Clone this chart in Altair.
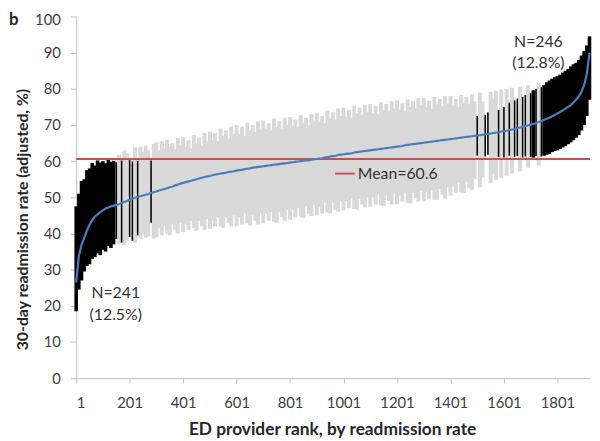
import altair as alt
import pandas as pd

MEAN = 60.6
FONT = "Lato"

# provider ranks (one drawn bar per 10 ranks)
rank = list(range(1, 1922, 10))

rate = [
    26.5, 33.8, 36.8, 38.8, 40.8, 42.4, 43.7, 44.7, 45.3, 45.9,
    46.4, 46.9, 47.2, 47.5, 47.7, 47.9, 48.1, 48.4, 48.7, 49.0,
    49.3, 49.6, 49.9, 50.1, 50.3, 50.5, 50.7, 50.9, 51.2, 51.4,
    51.6, 51.9, 52.1, 52.3, 52.5, 52.8, 53.0, 53.3, 53.5, 53.8,
    54.0, 54.2, 54.4, 54.6, 54.8, 55.0, 55.2, 55.4, 55.6, 55.8,
    55.9, 56.1, 56.3, 56.4, 56.6, 56.7, 56.8, 57.0, 57.1, 57.2,
    57.4, 57.5, 57.6, 57.8, 57.9, 58.0, 58.2, 58.3, 58.4, 58.5,
    58.6, 58.7, 58.8, 58.9, 59.0, 59.1, 59.2, 59.3, 59.4, 59.5,
    59.6, 59.7, 59.8, 59.9, 60.0, 60.1, 60.2, 60.3, 60.4, 60.5,
    60.6, 60.7, 60.8, 61.0, 61.1, 61.3, 61.4, 61.5, 61.7, 61.8,
    61.9, 62.0, 62.1, 62.2, 62.4, 62.5, 62.6, 62.7, 62.8, 62.9,
    63.0, 63.1, 63.2, 63.3, 63.4, 63.5, 63.6, 63.7, 63.8, 63.9,
    64.0, 64.1, 64.2, 64.4, 64.5, 64.6, 64.7, 64.8, 64.9, 65.0,
    65.1, 65.2, 65.3, 65.4, 65.5, 65.6, 65.7, 65.8, 65.9, 66.0,
    66.1, 66.2, 66.3, 66.4, 66.5, 66.6, 66.7, 66.8, 66.9, 67.0,
    67.1, 67.2, 67.3, 67.4, 67.5, 67.6, 67.8, 67.9, 68.0, 68.2,
    68.3, 68.4, 68.6, 68.7, 68.9, 69.1, 69.3, 69.5, 69.7, 69.9,
    70.1, 70.3, 70.5, 70.8, 71.1, 71.4, 71.7, 72.0, 72.4, 72.8,
    73.2, 73.6, 74.0, 74.5, 75.0, 75.5, 76.2, 77.0, 78.0, 79.2,
    81.0, 84.0, 90.0,
]

lo = [
    18.5, 24.5, 27.0, 29.5, 31.0, 31.5, 33.0, 33.5, 34.5, 34.0,
    35.5, 35.0, 36.5, 36.0, 37.0, 38.5, 37.0, 37.5, 36.8, 38.0,
    39.0, 38.0, 37.5, 39.5, 38.5, 40.0, 38.8, 39.2, 43.0, 38.6,
    39.0, 41.5, 39.5, 42.0, 40.0, 39.5, 42.5, 41.0, 40.0, 43.0,
    40.4, 42.5, 41.0, 43.5, 41.5, 40.8, 43.5, 42.0, 41.0, 44.0,
    41.3, 43.5, 42.0, 44.5, 42.0, 41.5, 44.5, 43.0, 42.0, 45.0,
    42.0, 44.5, 42.5, 45.5, 42.8, 42.2, 45.0, 43.5, 42.5, 45.5,
    42.8, 45.5, 43.5, 46.0, 43.2, 43.0, 46.0, 44.5, 43.5, 46.5,
    43.8, 46.5, 44.5, 47.0, 44.5, 44.3, 47.5, 45.5, 44.8, 47.8,
    45.0, 47.5, 45.5, 48.5, 45.8, 45.5, 48.5, 46.5, 46.0, 49.0,
    46.4, 49.0, 47.0, 49.8, 46.8, 46.6, 49.5, 48.0, 47.2, 50.0,
    47.4, 50.0, 48.0, 50.8, 47.8, 47.6, 50.5, 49.0, 48.0, 51.0,
    48.1, 50.5, 48.8, 51.3, 48.5, 48.3, 51.2, 49.8, 48.8, 51.8,
    48.9, 51.5, 49.5, 52.0, 49.3, 49.3, 52.3, 50.8, 49.6, 52.8,
    50.5, 53.0, 51.2, 54.0, 51.3, 51.2, 54.3, 52.5, 52.0, 55.0,
    61.5, 52.8, 55.5, 61.3, 61.8, 53.9, 56.5, 54.8, 61.2, 55.4,
    61.0, 56.0, 61.5, 56.6, 61.2, 61.4, 57.2, 61.0, 61.3, 58.2,
    61.2, 61.0, 61.4, 58.8, 61.3, 61.5, 61.8, 62.0, 62.5, 62.8,
    63.0, 63.4, 63.8, 64.2, 64.7, 65.2, 65.8, 66.5, 67.2, 68.5,
    70.0, 72.5, 77.0,
]

hi = [
    47.5, 51.0, 54.5, 55.0, 57.5, 58.0, 59.5, 58.8, 60.2, 59.6,
    60.0, 59.4, 60.3, 59.8, 60.1, 59.7, 61.8, 60.2, 63.0, 62.2,
    60.3, 59.9, 63.8, 60.1, 64.0, 62.5, 64.3, 63.0, 60.2, 64.8,
    65.2, 63.0, 65.5, 63.5, 66.0, 64.0, 65.0, 63.2, 66.4, 64.5,
    66.6, 64.0, 65.8, 63.5, 67.2, 65.0, 66.5, 64.3, 67.8, 65.5,
    68.2, 65.8, 67.8, 65.5, 69.0, 67.0, 68.5, 66.3, 69.6, 67.5,
    70.0, 67.5, 69.5, 67.0, 70.6, 68.5, 70.0, 68.0, 71.0, 69.0,
    71.2, 68.8, 70.5, 68.5, 71.8, 69.5, 71.0, 69.0, 72.0, 70.0,
    72.2, 69.8, 71.5, 69.5, 72.8, 70.5, 72.0, 70.0, 73.0, 71.0,
    73.2, 70.8, 72.5, 70.5, 74.0, 71.8, 73.5, 71.5, 74.6, 72.5,
    74.8, 72.3, 74.2, 72.0, 75.3, 73.2, 74.8, 72.8, 75.6, 73.5,
    75.8, 73.3, 75.2, 73.0, 76.3, 74.2, 75.8, 73.8, 76.6, 74.5,
    76.8, 74.3, 76.0, 73.8, 77.1, 75.0, 76.6, 74.6, 77.4, 75.4,
    77.5, 75.0, 76.7, 74.5, 77.8, 75.7, 77.2, 75.2, 78.0, 76.0,
    78.0, 75.6, 77.2, 75.0, 78.3, 76.2, 77.8, 75.8, 78.5, 76.5,
    72.5, 79.0, 76.5, 72.8, 73.5, 79.2, 77.3, 79.5, 74.2, 79.8,
    75.0, 80.0, 76.2, 80.3, 76.8, 77.3, 80.6, 77.8, 78.3, 81.0,
    78.8, 79.6, 80.0, 81.6, 80.5, 81.0, 81.8, 82.3, 82.8, 83.2,
    83.5, 83.9, 84.5, 85.0, 85.5, 86.2, 86.8, 87.2, 88.0, 89.2,
    90.5, 92.0, 94.5,
]

x_ticks = [1, 201, 401, 601, 801, 1001, 1201, 1401, 1601, 1801]
y_ticks = [0, 10, 20, 30, 40, 50, 60, 70, 80, 90, 100]

ann_text = ["N=241", "(12.5%)", "N=246", "(12.8%)"]
ann_rank = [149, 149, 1730, 1730]
ann_val = [23.5, 17.5, 93.0, 87.0]

df = pd.DataFrame({"rank": rank, "rate": rate, "lo": lo, "hi": hi})
sig = [(h < MEAN or l > MEAN) for l, h in zip(lo, hi)]
df["grp"] = ["sig" if s else "ns" for s in sig]
# a significant bar standing alone among non-significant neighbours is drawn thin
iso = []
for i, s in enumerate(sig):
    left = sig[i - 1] if i > 0 else True
    right = sig[i + 1] if i < len(sig) - 1 else True
    iso.append(s and not (left and right))
df["w"] = [1.6 if f else 3.6 for f in iso]

mean_df = pd.DataFrame({"label": [f"Mean={MEAN}"], "mean": [MEAN]})
ann_df = pd.DataFrame({"t": ann_text, "r": ann_rank, "v": ann_val})
panel_df = pd.DataFrame({"t": ["b"]})

AX = "#bfbfbf"
x_scale = alt.Scale(domain=[1, 1923], nice=False, zero=False)
y_scale = alt.Scale(domain=[0, 100], nice=False, zero=True)

x_axis = alt.Axis(
    values=x_ticks, format="d", grid=False, title="ED provider rank, by readmission rate",
    domainColor=AX, tickColor=AX, tickSize=5, labelPadding=13,
    labelFont=FONT, labelFontSize=15, labelColor="#404040",
    titleFont=FONT, titleFontSize=17.5, titleFontWeight="bold", titleColor="#262626",
    titleX=259, titleY=52, titleBaseline="middle", titleAlign="center",
)
y_axis = alt.Axis(
    values=y_ticks, grid=False, title="30-day readmission rate (adjusted, %)",
    domainColor=AX, tickColor=AX, tickSize=6, labelPadding=10,
    labelFont=FONT, labelFontSize=15, labelColor="#404040",
    labelOffset={"condition": {"test": "datum.value == 100", "value": 3}, "value": 0},
    titleFont=FONT, titleFontSize=16, titleFontWeight="bold", titleColor="#262626",
    titleX=-46, titleY=205, titleAngle=270, titleBaseline="bottom", titleAlign="center",
)

X = alt.X("rank:Q", scale=x_scale, axis=x_axis)

gray = alt.Chart(df).transform_filter("datum.grp == 'ns'").mark_rule(
    color="#d9d9d9", strokeWidth=4
).encode(x=X, y=alt.Y("lo:Q", scale=y_scale, axis=y_axis), y2="hi:Q")

black = alt.Chart(df).transform_filter("datum.grp == 'sig'").mark_rule(
    color="#000000"
).encode(
    x=X, y=alt.Y("lo:Q", scale=y_scale, axis=y_axis), y2="hi:Q",
    strokeWidth=alt.StrokeWidth("w:Q", scale=None, legend=None),
)

mean_rule = alt.Chart(mean_df).mark_rule(strokeWidth=2).encode(
    y=alt.Y("mean:Q", scale=y_scale, axis=y_axis),
    color=alt.Color(
        "label:N", scale=alt.Scale(range=["#c9504e"]),
        legend=alt.Legend(
            orient="none", legendX=261, legendY=148, title=None,
            symbolType="stroke", symbolSize=400, symbolStrokeWidth=2,
            labelFont=FONT, labelFontSize=16, labelColor="#333333",
            labelOffset=2, padding=0,
        ),
    ),
)

line = alt.Chart(df).mark_line(color="#4a7ebb", strokeWidth=2.2).encode(
    x=X, y=alt.Y("rate:Q", scale=y_scale, axis=y_axis)
)

ann = alt.Chart(ann_df).mark_text(
    font=FONT, fontSize=16, color="#333333", align="center", baseline="middle"
).encode(
    x=alt.X("r:Q", scale=x_scale, axis=x_axis),
    y=alt.Y("v:Q", scale=y_scale, axis=y_axis),
    text="t:N",
)

panel = alt.Chart(panel_df).mark_text(
    font=FONT, fontSize=17, fontWeight="bold", color="#262626",
    align="left", baseline="alphabetic"
).encode(x=alt.value(-68), y=alt.value(9), text="t:N")

chart = alt.layer(gray, black, mean_rule, line, ann, panel).properties(
    width=520, height=366,
    autosize=alt.AutoSizeParams(type="none"),
    padding={"left": 69, "top": 6, "right": 2, "bottom": 61},
).configure_view(strokeWidth=0)

chart.save("out.html", embed_options={"renderer": "svg", "actions": False})
